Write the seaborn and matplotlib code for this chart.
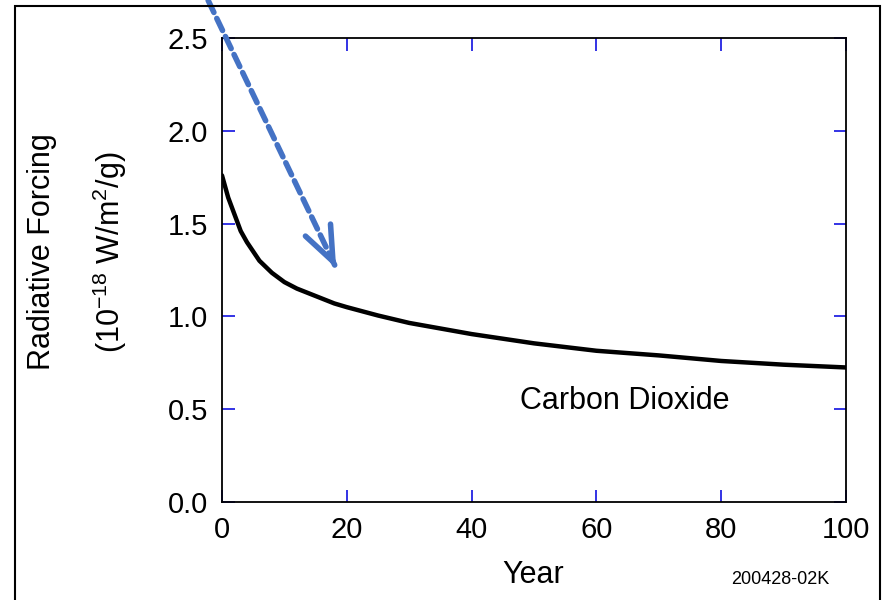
import numpy as np
import pandas as pd
import seaborn as sns
import matplotlib
matplotlib.use("Agg")
import matplotlib.pyplot as plt
from matplotlib.patches import Rectangle

sns.set_style("ticks")
plt.rcParams['font.family'] = ['Liberation Sans', 'DejaVu Sans']
plt.rcParams['mathtext.fontset'] = 'custom'
plt.rcParams['mathtext.rm'] = 'Liberation Sans'
plt.rcParams['mathtext.it'] = 'Liberation Sans'
plt.rcParams['text.color'] = 'black'
plt.rcParams['xtick.labelcolor'] = 'black'
plt.rcParams['ytick.labelcolor'] = 'black'

# CO2 radiative forcing curve
years = [0, 1, 2, 3, 4, 5, 6, 8, 10, 12, 15, 18, 20, 25, 30, 35, 40, 50, 60, 70, 80, 90, 100]
forcing = [1.76, 1.64, 1.55, 1.46, 1.40, 1.35, 1.30, 1.235, 1.185, 1.15, 1.11, 1.07,
           1.05, 1.005, 0.965, 0.935, 0.905, 0.855, 0.815, 0.79, 0.76, 0.74, 0.725]
xticks = [0, 20, 40, 60, 80, 100]
yticks = [0.0, 0.5, 1.0, 1.5, 2.0, 2.5]
arrow_start = (-3.6, 2.80)
arrow_tip = (18.3, 1.26)

df = pd.DataFrame({"year": years, "forcing": forcing})

fig = plt.figure(figsize=(8.83, 6.0), dpi=100)
ax = fig.add_axes([0.2514, 0.1633, 0.7067, 0.7733])

sns.lineplot(data=df, x="year", y="forcing", ax=ax, color="black", lw=3.2)

ax.set_xlim(0, 100)
ax.set_ylim(0, 2.5)
ax.set_xticks(xticks)
ax.set_yticks(yticks)
ax.set_xticklabels([str(t) for t in xticks])
ax.set_yticklabels([f"{t:.1f}" for t in yticks])
ax.set_xlabel("")
ax.set_ylabel("")
for s in ax.spines.values():
    s.set_visible(True)
    s.set_linewidth(1.3)
    s.set_color("black")
ax.tick_params(direction="in", length=9, width=1.2, color="#1010e0",
               top=True, right=True, labelsize=21, pad=10, labelcolor="black")

# dashed blue arrow
ax.annotate("", xy=arrow_tip, xytext=arrow_start, annotation_clip=False,
            arrowprops=dict(arrowstyle="-", color="#4472C4", lw=4,
                            linestyle=(0, (2.4, 1.2)), shrinkA=0, shrinkB=2))
d = np.array(arrow_tip) - np.array(arrow_start)
ax.annotate("", xy=arrow_tip, xytext=tuple(np.array(arrow_tip) - 0.05 * d),
            annotation_clip=False,
            arrowprops=dict(arrowstyle="->,head_length=2.5,head_width=1.0",
                            color="#4472C4", lw=4, mutation_scale=10,
                            shrinkA=0, shrinkB=0))

ax.text(47.8, 0.545, "Carbon Dioxide", fontsize=22, ha="left", va="center")

fig.text(42 / 883, 1 - 252 / 600, "Radiative Forcing", rotation=90,
         fontsize=22, ha="center", va="center")
fig.text(110 / 883, 1 - 252 / 600, r"(10$^{-18}$ W/m$^{2}$/g)", rotation=90,
         fontsize=22, ha="center", va="center")
fig.text(533 / 883, 1 - 575 / 600, "Year", fontsize=22, ha="center", va="center")
fig.text(780 / 883, 1 - 580 / 600, "200428-02K", fontsize=13, ha="center", va="center")

# outer frame
fig.patches.append(Rectangle((15 / 883, -0.1), (880 - 15) / 883, 1.1 - 6 / 600,
                             transform=fig.transFigure, fill=False,
                             edgecolor="black", lw=1.5))

fig.savefig("out.png", dpi=100)
